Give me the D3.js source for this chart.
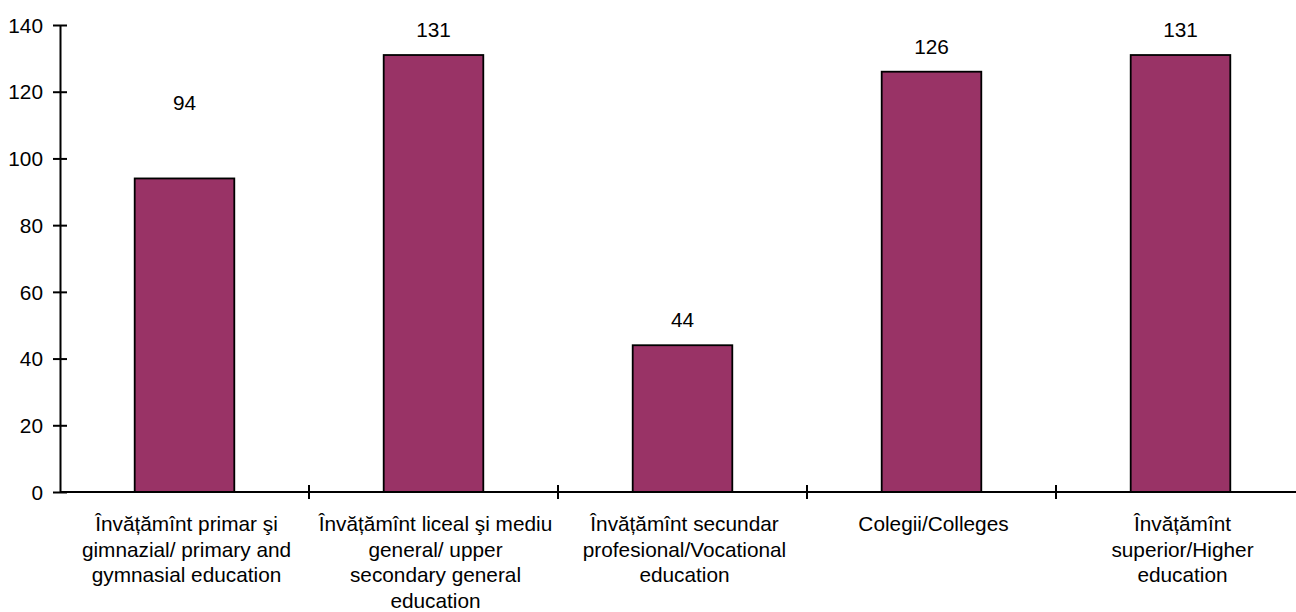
<!DOCTYPE html>
<html>
<head>
<meta charset="utf-8">
<script src="https://cdn.jsdelivr.net/npm/d3@7"></script>
<style>
  html, body { margin: 0; padding: 0; background: #fff; }
  svg { display: block; }
  text { font-family: "Liberation Sans", Arial, sans-serif; fill: #000; }
</style>
</head>
<body>
<svg id="chart" width="1296" height="612"></svg>
<script>
const categories = [
  "Învățămînt primar şi gimnazial/ primary and gymnasial education",
  "Învățămînt liceal şi mediu general/ upper secondary general education",
  "Învățămînt secundar profesional/Vocational education",
  "Colegii/Colleges",
  "Învățămînt superior/Higher education"
];
const categoryLines = [
  ["Învățămînt primar şi", "gimnazial/ primary and", "gymnasial education"],
  ["Învățămînt liceal şi mediu", "general/ upper", "secondary general", "education"],
  ["Învățămînt secundar", "profesional/Vocational", "education"],
  ["Colegii/Colleges"],
  ["Învățămînt", "superior/Higher", "education"]
];
const values = [94, 131, 44, 126, 131];
const yTicks = [0, 20, 40, 60, 80, 100, 120, 140];

// layout (not data)
const labelExtraLift = [50, 0, 0, 0, 0];
const FONT = 20.8;
const BAR_COLOR = "#993366";

const svg = d3.select("#chart");
const x = d3.scaleBand().domain(categories).range([60, 1305]).paddingInner(0.6).paddingOuter(0.3);
const y = d3.scaleLinear().domain([0, 140]).range([492, 25]);
const step = x.step();

// bars
svg.append("g").selectAll("rect").data(values).join("rect")
  .attr("x", (d, i) => x(categories[i]))
  .attr("y", d => y(d))
  .attr("width", x.bandwidth())
  .attr("height", d => y(0) - y(d))
  .attr("fill", BAR_COLOR)
  .attr("stroke", "#000")
  .attr("stroke-width", 1.8);

// value labels
svg.append("g").selectAll("text").data(values).join("text")
  .attr("x", (d, i) => x(categories[i]) + x.bandwidth() / 2)
  .attr("y", (d, i) => y(d) - 18 - labelExtraLift[i])
  .attr("text-anchor", "middle")
  .attr("font-size", FONT)
  .text(d => d);

// y axis
const yAxis = svg.append("g").attr("transform", "translate(60,0)")
  .call(d3.axisLeft(y).tickValues(yTicks).tickSize(7).tickPadding(10).tickSizeOuter(0));
yAxis.select(".domain").attr("stroke", "#000").attr("stroke-width", 2);
yAxis.selectAll(".tick line").attr("x2", 7).attr("x1", -7).attr("stroke", "#000").attr("stroke-width", 2);
yAxis.selectAll(".tick text").attr("font-size", FONT).attr("font-family", "Liberation Sans, Arial, sans-serif").attr("x", -17).attr("dy", "0.35em");

// x axis line
svg.append("line")
  .attr("x1", 60).attr("x2", 1296)
  .attr("y1", y(0)).attr("y2", y(0))
  .attr("stroke", "#000").attr("stroke-width", 2);

// category boundary ticks
const boundaries = categories.slice(1).map(c => x(c) - step * x.paddingInner() / 2);
svg.append("g").selectAll("line").data(boundaries).join("line")
  .attr("x1", d => d).attr("x2", d => d)
  .attr("y1", y(0) - 7).attr("y2", y(0) + 7)
  .attr("stroke", "#000").attr("stroke-width", 2);

// category labels
const lab = svg.append("g").selectAll("text").data(categories).join("text")
  .attr("text-anchor", "middle")
  .attr("font-size", FONT)
  .attr("x", c => x(c) + x.bandwidth() / 2 + 2);
lab.each(function(c, i) {
  d3.select(this).selectAll("tspan").data(categoryLines[i]).join("tspan")
    .attr("x", x(c) + x.bandwidth() / 2 + 2)
    .attr("y", (l, j) => 531 + j * 25.5)
    .text(l => l);
});
</script>
</body>
</html>
